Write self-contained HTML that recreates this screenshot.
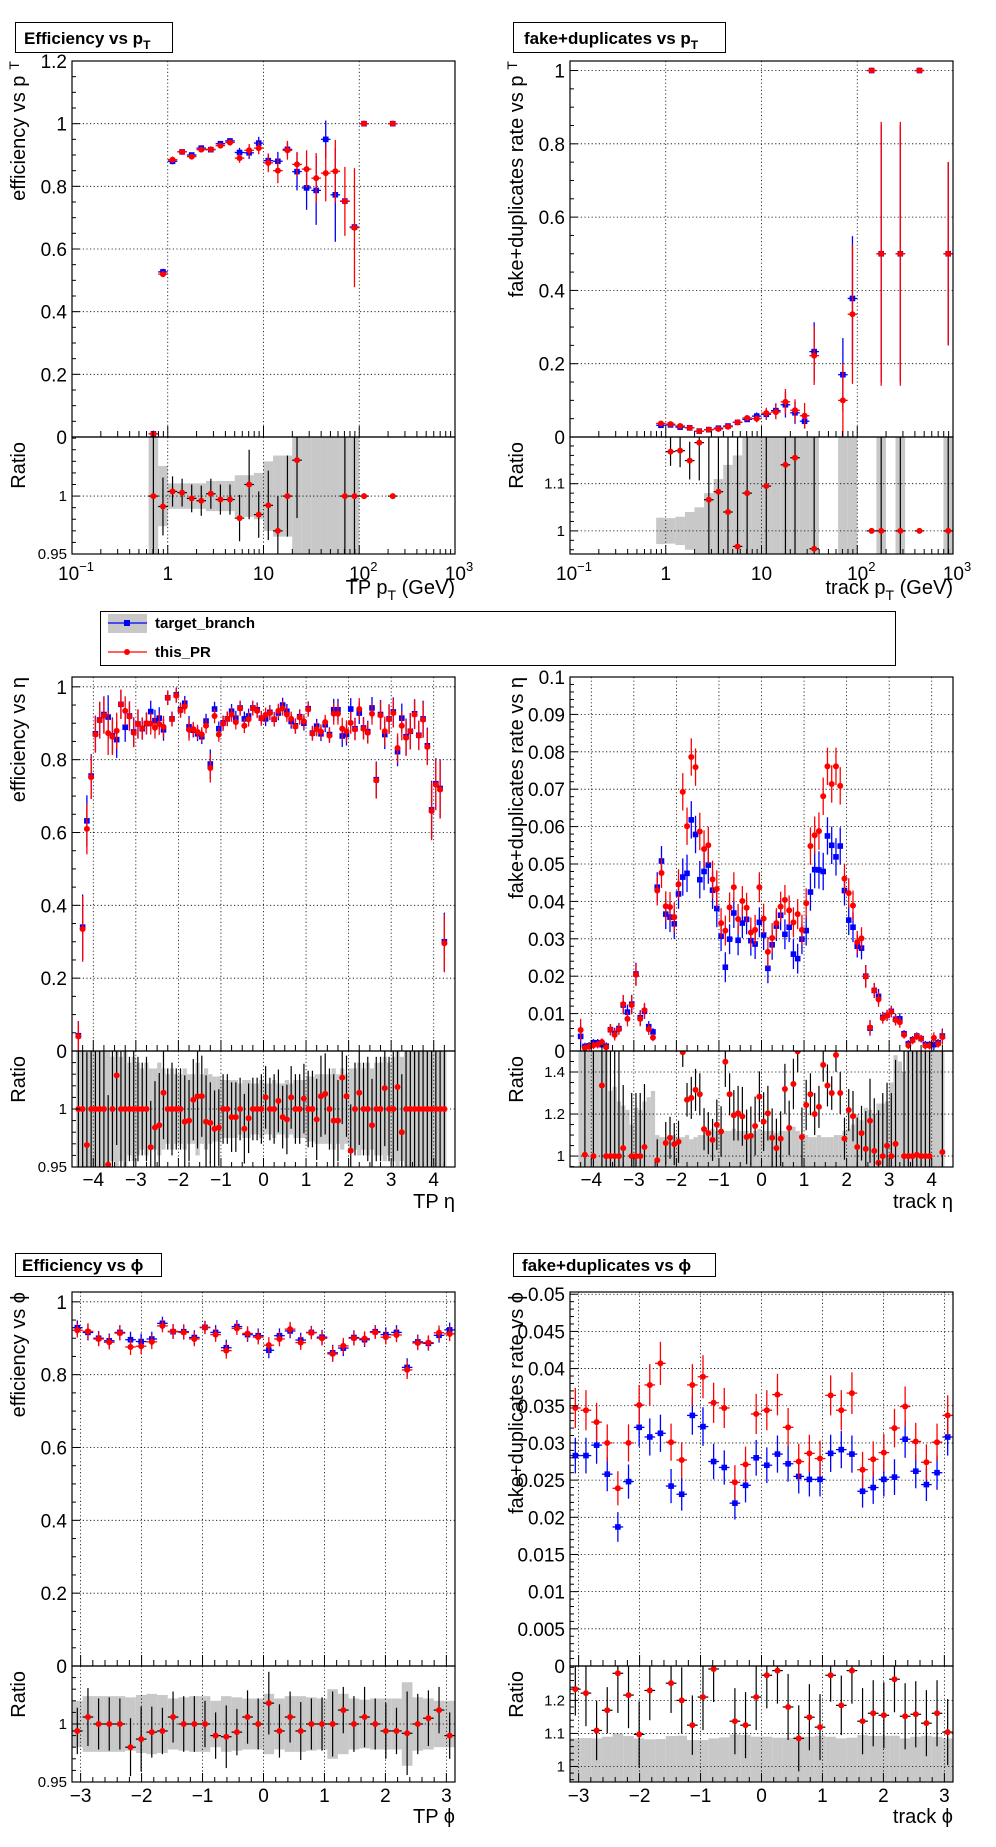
<!DOCTYPE html>
<html><head><meta charset="utf-8">
<style>
html,body{margin:0;padding:0;background:#fff;}
svg{display:block;font-family:"Liberation Sans",Arial,sans-serif;}
</style></head>
<body>
<svg id="canvas" width="996" height="1847" viewBox="0 0 996 1847" xmlns="http://www.w3.org/2000/svg">
<rect x="0" y="0" width="996" height="1847" fill="#fff"/>
<g>
<rect x="15.5" y="22.5" width="157" height="30" fill="#fff" stroke="#000"/>
<text x="24" y="44" font-size="17" font-weight="bold">Efficiency vs p<tspan font-size="12" dy="5">T</tspan></text>
</g>
<g>
<rect x="513.5" y="22.5" width="212" height="30" fill="#fff" stroke="#000"/>
<text x="524" y="44" font-size="17" font-weight="bold">fake+duplicates vs p<tspan font-size="12" dy="5">T</tspan></text>
</g>
<g>
<rect x="15.5" y="1253.5" width="146" height="23" fill="#fff" stroke="#000"/>
<text x="22" y="1271" font-size="17" font-weight="bold">Efficiency vs ϕ</text>
</g>
<g>
<rect x="513.5" y="1253.5" width="202" height="23" fill="#fff" stroke="#000"/>
<text x="522" y="1271" font-size="17" font-weight="bold">fake+duplicates vs ϕ</text>
</g>
<g>
<rect x="100.5" y="611.5" width="795" height="54" fill="#fff" stroke="#000"/>
<g>
<rect x="108" y="614" width="39" height="19" fill="#c8c8c8"/>
<line x1="108" y1="623" x2="147" y2="623" stroke="#0000ff" stroke-width="1.3"/>
<rect x="124" y="620" width="6" height="6" fill="#0000ff"/>
<text x="155" y="628" font-size="15" font-weight="bold">target_branch</text>
</g>
<g>
<line x1="108" y1="652" x2="147" y2="652" stroke="#ff0000" stroke-width="1.3"/>
<circle cx="127" cy="652" r="3" fill="#ff0000"/>
<text x="155" y="657" font-size="15" font-weight="bold">this_PR</text>
</g>
</g>
</svg>
<script>
// ---------- efficiency vs pT (log10 bin centres) ----------
const effPtCenters=[-0.15,-0.05,0.05,0.15,0.25,0.35,0.45,0.55,0.65,0.75,0.85,0.95,1.05,1.15,1.25,1.35,1.45,1.55,1.65,1.75,1.85,1.95,2.05,2.35];
const effPtBlue=[0.01,0.527,0.88,0.91,0.90,0.922,0.917,0.936,0.945,0.908,0.907,0.938,0.882,0.88,0.918,0.847,0.795,0.787,0.95,0.773,0.753,0.67,1,1];
const effPtRed=[0.01,0.52,0.885,0.91,0.895,0.917,0.918,0.93,0.94,0.89,0.915,0.922,0.875,0.85,0.915,0.87,0.855,0.826,0.842,0.848,0.752,0.668,1,1];
const effPtBlueErr=[0.01,0.01,0.01,0.008,0.008,0.008,0.008,0.008,0.008,0.015,0.02,0.02,0.02,0.03,0.02,0.06,0.07,0.11,0.06,0.15,0.01,0.01,0,0];
const effPtRedErr=[0.01,0.01,0.01,0.008,0.008,0.008,0.008,0.008,0.01,0.015,0.02,0.02,0.03,0.04,0.03,0.04,0.06,0.08,0.09,0.1,0.11,0.19,0,0];
const effPtRatio=[1.0,0.991,1.004,1.003,0.998,0.996,1.002,0.997,0.997,0.981,1.01,0.984,0.992,0.97,1.0,1.031,null,null,null,null,1.0,1.0,1.0,1.0];
const effPtRatioErr=[1,0.025,0.013,0.012,0.012,0.013,0.013,0.013,0.013,0.02,0.03,0.02,0.03,0.03,0.035,0.05,0,0,0,0,1,1,0,0];
const effPtBand=[1,0.026,0.011,0.011,0.011,0.011,0.013,0.013,0.013,0.018,0.018,0.02,0.03,0.035,0.035,1,1,1,1,1,1,1,0,0];

// ---------- fake+dup vs pT ----------
const fakePtCenters=[-0.05,0.05,0.15,0.25,0.35,0.45,0.55,0.65,0.75,0.85,0.95,1.05,1.15,1.25,1.35,1.45,1.55,1.85,1.95,2.15,2.25,2.45,2.65,2.95];
const fakePtBlue=[0.032,0.033,0.027,0.025,0.016,0.02,0.024,0.03,0.04,0.048,0.057,0.062,0.072,0.088,0.066,0.043,0.233,0.17,0.378,1,0.5,0.5,1,0.5];
const fakePtRed=[0.037,0.035,0.03,0.025,0.016,0.02,0.022,0.028,0.04,0.052,0.05,0.065,0.068,0.096,0.073,0.058,0.222,0.1,0.335,1,0.5,0.5,1,0.5];
const fakePtBlueErr=[0.004,0.003,0.003,0.003,0.003,0.003,0.003,0.004,0.005,0.007,0.01,0.015,0.02,0.035,0.03,0.02,0.08,0.1,0.17,0,0.35,0.35,0,0.25];
const fakePtRedErr=[0.004,0.003,0.003,0.003,0.003,0.003,0.003,0.004,0.005,0.007,0.01,0.015,0.02,0.035,0.03,0.035,0.08,0.1,0.19,0,0.36,0.36,0,0.25];
const fakePtRatio=[null,1.168,1.17,1.149,1.187,1.066,1.083,1.04,0.967,1.08,null,1.095,null,1.14,1.155,null,0.962,null,null,1,1,1,1,1];
const fakePtRatioErr=[0,0.03,0.035,0.04,0.08,0.15,0.2,0.25,0.3,0.35,0,0.5,0,0.5,0.5,0,1,0,0,0,1,1,0,1];
const fakePtBand=[0.028,0.027,0.03,0.04,0.05,0.08,0.11,0.14,0.16,1,1,1,1,1,1,1,1,1,1,0,1,1,0,1];

// ---------- efficiency vs eta (first centre -4.35, width 0.1) ----------
const effEtaFirst=-4.35, etaBinWidth=0.1;
const effEtaRed=[0.04,0.335,0.61,0.752,0.869,0.908,0.921,0.873,0.863,0.879,
0.952,0.934,0.919,0.874,0.898,0.886,0.9,0.899,0.888,0.898,
0.89,0.97,0.911,0.976,0.935,0.946,0.882,0.884,0.876,0.869,
0.893,0.777,0.92,0.869,0.899,0.912,0.924,0.903,0.941,0.893,
0.911,0.941,0.934,0.913,0.923,0.928,0.911,0.934,0.941,0.924,
0.912,0.891,0.916,0.905,0.938,0.872,0.884,0.877,0.903,0.866,
0.926,0.926,0.885,0.878,0.901,0.883,0.939,0.885,0.874,0.926,
0.743,0.922,0.878,0.911,0.928,0.832,0.893,0.86,0.878,0.924,
0.866,0.91,0.835,0.659,0.731,0.718,0.296];
const effEtaBlue=[0.042,0.34,0.632,0.755,0.871,0.909,0.924,0.917,0.866,0.855,
0.952,0.889,0.92,0.876,0.898,0.885,0.899,0.932,0.907,0.914,
0.882,0.97,0.912,0.978,0.937,0.955,0.89,0.881,0.871,0.863,
0.906,0.788,0.939,0.885,0.901,0.912,0.933,0.914,0.942,0.912,
0.92,0.942,0.937,0.914,0.912,0.93,0.911,0.928,0.95,0.933,
0.905,0.893,0.918,0.9,0.94,0.873,0.892,0.871,0.896,0.869,
0.937,0.937,0.865,0.869,0.939,0.885,0.928,0.887,0.877,0.942,
0.745,0.924,0.869,0.912,0.931,0.822,0.914,0.863,0.878,0.926,
0.867,0.912,0.838,0.662,0.734,0.721,0.3];
const effEtaErr=[0.04,0.09,0.07,0.06,0.05,0.05,0.05,0.06,0.05,0.05,
0.04,0.04,0.04,0.04,0.04,0.03,0.03,0.03,0.03,0.03,
0.03,0.02,0.02,0.02,0.02,0.02,0.03,0.02,0.02,0.02,
0.02,0.04,0.02,0.02,0.02,0.02,0.02,0.02,0.02,0.02,
0.02,0.02,0.02,0.02,0.02,0.02,0.02,0.02,0.02,0.02,
0.02,0.02,0.02,0.02,0.02,0.02,0.02,0.02,0.02,0.02,
0.03,0.03,0.03,0.03,0.03,0.03,0.03,0.03,0.03,0.03,
0.05,0.04,0.04,0.04,0.04,0.04,0.04,0.05,0.05,0.04,
0.04,0.05,0.05,0.08,0.07,0.08,0.08];
const effEtaRatio=[1,1,0.969,1,1,1,1,0.952,1,1.029,
1,1,1,1,1,1,1,0.967,0.984,0.986,
1.014,1,1,1,1,0.989,0.99,1.008,1.011,1.011,
0.989,0.988,0.983,0.984,1,1,0.993,0.993,1,0.983,
0.992,1,1,1,1.01,1,1,1.007,0.993,0.991,
1.01,1,1,1.009,1,1,0.991,1.011,1.013,1,
0.99,0.99,1.027,1.011,0.964,1,1.014,1,1,0.986,
1,1,1.018,1,1,1.019,0.98,1,1,1,
1,1,1,1,1,1,1];
const effEtaRatioErr=[0.08,0.08,0.08,0.08,0.08,0.08,0.07,0.06,0.055,0.06,
0.05,0.055,0.045,0.05,0.045,0.04,0.045,0.04,0.04,0.045,
0.04,0.035,0.04,0.035,0.035,0.04,0.035,0.035,0.045,0.035,
0.04,0.035,0.033,0.033,0.03,0.03,0.03,0.03,0.027,0.03,
0.03,0.027,0.027,0.03,0.027,0.027,0.03,0.027,0.027,0.03,
0.027,0.03,0.03,0.03,0.033,0.033,0.035,0.035,0.035,0.035,
0.04,0.035,0.04,0.035,0.04,0.04,0.045,0.04,0.045,0.04,
0.045,0.045,0.05,0.045,0.05,0.055,0.05,0.08,0.08,0.08,
0.08,0.08,0.08,0.08,0.08,0.08,0.08];
const effEtaBand=[0.06,0.06,0.06,0.06,0.06,0.06,0.06,0.05,0.045,0.05,
0.045,0.05,0.04,0.045,0.04,0.035,0.04,0.035,0.035,0.04,
0.035,0.03,0.035,0.03,0.03,0.035,0.03,0.03,0.04,0.03,
0.035,0.03,0.028,0.028,0.025,0.025,0.025,0.025,0.022,0.025,
0.025,0.022,0.022,0.025,0.022,0.022,0.025,0.022,0.022,0.025,
0.022,0.025,0.025,0.025,0.028,0.028,0.03,0.03,0.03,0.03,
0.035,0.03,0.035,0.03,0.035,0.035,0.04,0.035,0.04,0.035,
0.04,0.04,0.045,0.04,0.045,0.05,0.045,0.06,0.06,0.06,
0.06,0.06,0.06,0.06,0.06,0.06,0.06];

// ---------- fake+dup vs eta (first centre -4.25) ----------
const fakeEtaFirst=-4.25;
const fakeEtaRed=[0.0056,0.0008,0.0012,0.0015,0.0017,0.0024,0.001,0.0057,0.0043,0.0058,
0.0125,0.0086,0.0123,0.0204,0.0086,0.0109,0.0058,0.0036,0.0429,0.0476,
0.0387,0.0385,0.0358,0.0446,0.0693,0.0601,0.0786,0.0759,0.0587,0.054,
0.055,0.0459,0.0433,0.0342,0.0322,0.0384,0.0438,0.0353,0.0401,0.0383,
0.0317,0.0324,0.0438,0.0354,0.0265,0.0302,0.0342,0.0386,0.0404,0.0376,
0.0344,0.0366,0.0324,0.0395,0.0548,0.0577,0.0588,0.0681,0.0761,0.0714,
0.0761,0.0709,0.0461,0.0422,0.0389,0.0291,0.0301,0.0199,0.0063,0.0162,
0.0138,0.0088,0.0095,0.0105,0.0083,0.0077,0.0043,0.0015,0.0028,0.0039,
0.0033,0.0014,0.0014,0.0035,0.0019,0.0037];
const fakeEtaBlue=[0.0039,0.0012,0.0014,0.0022,0.0022,0.0017,0.0013,0.0057,0.0047,0.006,
0.0123,0.0104,0.0125,0.0206,0.0089,0.0106,0.0065,0.0051,0.0438,0.0508,
0.0366,0.0358,0.034,0.042,0.0465,0.0475,0.0618,0.0579,0.0458,0.048,
0.0497,0.043,0.0381,0.0307,0.0224,0.0299,0.0369,0.0296,0.0342,0.0352,
0.0295,0.0286,0.0344,0.031,0.0221,0.0284,0.0334,0.0363,0.0312,0.0331,
0.0259,0.0247,0.0299,0.0322,0.0425,0.0485,0.0484,0.048,0.0575,0.055,
0.0519,0.0548,0.0429,0.035,0.0331,0.028,0.0275,0.02,0.0061,0.0162,
0.0146,0.009,0.0095,0.0106,0.0085,0.0086,0.0046,0.0019,0.003,0.004,
0.0033,0.0017,0.0017,0.0017,0.0022,0.004];
const fakeEtaErr=[0.003,0.001,0.001,0.001,0.001,0.001,0.001,0.0015,0.0015,0.0015,
0.0025,0.002,0.0025,0.003,0.002,0.002,0.0015,0.001,0.004,0.004,
0.004,0.004,0.004,0.004,0.005,0.005,0.005,0.005,0.005,0.005,
0.005,0.005,0.005,0.004,0.004,0.004,0.004,0.004,0.004,0.004,
0.004,0.004,0.004,0.004,0.004,0.004,0.004,0.004,0.004,0.004,
0.004,0.004,0.004,0.004,0.005,0.005,0.005,0.005,0.005,0.005,
0.005,0.005,0.004,0.004,0.004,0.003,0.003,0.003,0.002,0.002,
0.002,0.0015,0.0015,0.0015,0.0015,0.0015,0.001,0.001,0.001,0.001,
0.001,0.001,0.001,0.0015,0.001,0.002];
const fakeEtaRatio=[null,1.006,null,1.0,null,1.336,1,1,1,1,
1.038,null,1,1,1,1.043,null,null,0.98,null,
1.062,1.087,1.057,1.068,1.494,1.268,1.277,1.315,1.294,1.128,
1.109,1.077,1.149,1.117,1.449,1.294,1.194,1.204,1.189,1.091,
1.096,1.143,1.283,1.164,1.204,1.087,1.038,1.083,1.319,1.134,
1.343,1.498,1.091,1.243,1.294,1.2,1.234,1.434,1.336,1.3,
1.481,1.3,1.083,1.219,1.19,1.043,1.109,1.034,1.168,1.025,
0.968,1,1.049,1,1.058,null,1,1,1,1.006,
1,1,1,null,null,1.019];
const fakeEtaRatioErr=[1,1,1,1,1,1,0.5,0.5,0.5,0.5,
0.3,0.3,0.3,0.3,0.3,0.3,0.4,0.4,0.1,0.1,
0.1,0.1,0.1,0.1,0.07,0.08,0.1,0.1,0.1,0.1,
0.1,0.1,0.12,0.12,0.12,0.1,0.12,0.13,0.14,0.13,
0.14,0.14,0.12,0.14,0.13,0.14,0.14,0.13,0.12,0.13,
0.12,0.1,0.14,0.12,0.1,0.1,0.1,0.08,0.1,0.08,
0.08,0.1,0.1,0.1,0.12,0.14,0.13,0.18,0.2,0.25,
0.25,0.3,0.3,0.3,0.4,0.5,1,1,1,1,
1,1,1,1,1,1];
const fakeEtaBand=[0.6,0.6,0.6,0.6,0.6,0.6,0.6,0.31,0.33,0.26,
0.24,0.22,0.15,0.23,0.22,0.26,0.28,0.31,0.1,0.09,
0.09,0.08,0.1,0.09,0.09,0.1,0.08,0.09,0.1,0.1,
0.12,0.13,0.12,0.12,0.12,0.12,0.13,0.12,0.12,0.12,
0.11,0.12,0.13,0.12,0.12,0.12,0.11,0.12,0.12,0.13,
0.14,0.12,0.1,0.1,0.09,0.09,0.1,0.09,0.09,0.09,
0.1,0.1,0.12,0.13,0.15,0.2,0.17,0.23,0.22,0.2,
0.25,0.25,0.26,0.35,0.48,0.45,0.4,0.6,0.6,0.6,
0.6,0.6,0.6,0.6,0.6,0.6];

// ---------- phi (36 bins over -pi..pi) ----------
const phiBins=36;
const effPhiRed=[0.922,0.919,0.898,0.889,0.914,0.876,0.878,0.89,0.934,0.919,0.916,0.898,0.929,0.91,0.866,0.927,0.913,0.903,0.881,0.898,0.925,0.888,0.915,0.9,0.857,0.879,0.9,0.899,0.916,0.903,0.909,0.813,0.887,0.888,0.915,0.912];
const effPhiBlue=[0.929,0.916,0.9,0.893,0.916,0.896,0.891,0.898,0.941,0.918,0.918,0.902,0.93,0.916,0.874,0.932,0.91,0.907,0.867,0.907,0.92,0.895,0.916,0.903,0.86,0.873,0.902,0.896,0.918,0.91,0.916,0.82,0.89,0.886,0.908,0.923];
const effPhiErr=[0.02,0.022,0.02,0.02,0.02,0.022,0.022,0.02,0.018,0.02,0.02,0.02,0.018,0.02,0.022,0.018,0.02,0.02,0.022,0.02,0.02,0.02,0.018,0.02,0.022,0.022,0.02,0.02,0.018,0.02,0.02,0.025,0.02,0.02,0.02,0.02];
const effPhiRatio=[0.994,1.006,1,1,1,0.98,0.987,0.993,0.994,1.006,1,1,1,0.99,0.989,0.993,1.006,1,1.018,0.994,1.006,0.994,1,1,1,1.012,1,1.006,1,0.994,0.994,0.992,1,1.005,1.012,0.99];
const effPhiRatioErr=[0.02,0.025,0.022,0.023,0.022,0.025,0.028,0.022,0.02,0.022,0.024,0.024,0.02,0.02,0.027,0.02,0.023,0.022,0.027,0.023,0.022,0.025,0.022,0.023,0.028,0.02,0.024,0.026,0.022,0.024,0.02,0.036,0.026,0.024,0.02,0.02];
const effPhiBand=[0.02,0.024,0.024,0.024,0.024,0.023,0.025,0.026,0.025,0.022,0.023,0.024,0.024,0.02,0.024,0.023,0.022,0.022,0.026,0.022,0.024,0.024,0.023,0.022,0.03,0.026,0.022,0.021,0.022,0.022,0.022,0.036,0.023,0.022,0.02,0.02];
const fakePhiRed=[0.0347,0.0344,0.0328,0.03,0.0239,0.03,0.0351,0.0378,0.0407,0.0301,0.0277,0.0378,0.0389,0.0354,0.0347,0.0247,0.0271,0.0339,0.0344,0.0365,0.0321,0.0275,0.0286,0.0279,0.0364,0.0344,0.0367,0.0264,0.0278,0.0287,0.032,0.0349,0.0302,0.0274,0.0301,0.0337];
const fakePhiBlue=[0.0283,0.0283,0.0297,0.0258,0.0187,0.0248,0.0321,0.0308,0.0313,0.0242,0.0231,0.0337,0.0322,0.0275,0.0267,0.0219,0.0243,0.028,0.027,0.0285,0.0272,0.0255,0.0251,0.0251,0.0286,0.0291,0.0285,0.0235,0.024,0.0251,0.0254,0.0305,0.0262,0.0244,0.026,0.0308];
const fakePhiRedErr=[0.0027,0.0027,0.0026,0.0025,0.0023,0.0025,0.0027,0.0028,0.0029,0.0025,0.0024,0.0028,0.0029,0.0027,0.0027,0.0023,0.0024,0.0027,0.0027,0.0028,0.0026,0.0024,0.0025,0.0024,0.0027,0.0027,0.0028,0.0024,0.0024,0.0025,0.0026,0.0027,0.0025,0.0024,0.0025,0.0027];
const fakePhiBlueErr=[0.0024,0.0024,0.0025,0.0023,0.002,0.0023,0.0026,0.0025,0.0025,0.0023,0.0022,0.0026,0.0026,0.0024,0.0023,0.0022,0.0023,0.0024,0.0024,0.0025,0.0024,0.0023,0.0023,0.0023,0.0025,0.0025,0.0025,0.0022,0.0022,0.0023,0.0024,0.0025,0.0023,0.0022,0.0023,0.0025];
const fakePhiRatio=[1.234,1.222,1.109,1.17,1.282,1.216,1.097,1.23,null,1.252,1.2,1.125,1.21,1.295,null,1.137,1.125,1.21,1.276,1.29,1.18,1.085,1.149,1.119,1.276,1.185,1.29,1.137,1.161,1.155,1.264,1.152,1.158,1.131,1.161,1.104];
const fakePhiRatioErr=[0.08,0.1,0.09,0.07,0.12,0.1,0.1,0.09,0,0.09,0.1,0.09,0.1,0.1,0,0.1,0.1,0.1,0.1,0.1,0.1,0.1,0.1,0.1,0.08,0.09,0.1,0.1,0.1,0.1,0.1,0.1,0.1,0.1,0.1,0.1];
const fakePhiBand=[0.085,0.086,0.085,0.09,0.1,0.092,0.085,0.082,0.083,0.092,0.093,0.08,0.08,0.085,0.088,0.097,0.095,0.09,0.09,0.087,0.087,0.09,0.09,0.093,0.09,0.085,0.087,0.095,0.092,0.093,0.093,0.085,0.09,0.093,0.09,0.085];

// ---------- tick label arrays ----------
const effYLabels=["0","0.2","0.4","0.6","0.8","1","1.2"];
const fakeEtaYLabels=["0","0.01","0.02","0.03","0.04","0.05","0.06","0.07","0.08","0.09","0.1"];
const fakePhiYLabels=["0","0.005","0.01","0.015","0.02","0.025","0.03","0.035","0.04","0.045","0.05"];
const etaXLabels=["−4","−3","−2","−1","0","1","2","3","4"];
const phiXLabels=["−3","−2","−1","0","1","2","3"];

const NS="http://www.w3.org/2000/svg";
const svg=document.getElementById('canvas');
let clipN=0;
function mk(tag,at,par){const e=document.createElementNS(NS,tag);for(const k in at)e.setAttribute(k,at[k]);(par||svg).appendChild(e);return e;}
function lin(a,b,p,q){return v=>p+(v-a)*(q-p)/(b-a);}
function rng(a,b,s){const o=[];for(let v=a;v<=b+1e-9;v+=s)o.push(+v.toFixed(6));return o;}

function panel(p){
  const g=mk('g',{});
  
  
  const fx=p.fx, fy=lin(0,p.yMax,p.yM,p.yT), fr=lin(p.rMin,p.rMax,p.yB,p.yM);
  const c1='c'+(clipN++), c2='c'+(clipN++);
  const defs=mk('defs',{},g);
  mk('rect',{x:p.x0,y:p.yT,width:p.x1-p.x0,height:p.yM-p.yT},mk('clipPath',{id:c1},defs));
  mk('rect',{x:p.x0,y:p.yM,width:p.x1-p.x0,height:p.yB-p.yM},mk('clipPath',{id:c2},defs));
  const gm=mk('g',{'clip-path':'url(#'+c1+')'},g);
  const gr=mk('g',{'clip-path':'url(#'+c2+')'},g);
  // ratio band
  p.bandC.forEach((c,i)=>{const h=p.band[i]; if(!h)return;
    const y1=fr(Math.min(1+h,p.rMax+1)), y2=fr(Math.max(1-h,p.rMin-1));
    const r=mk('rect',{x:fx(c-p.hw),y:y1,width:fx(c+p.hw)-fx(c-p.hw),height:y2-y1,fill:'#c8c8c8'},gr);
    
    
  });
  // grid
  const dash={stroke:'#000','stroke-width':0.8,'stroke-dasharray':'1.2,2.4'};
  p.xGrid.forEach(v=>{
    mk('line',Object.assign({x1:fx(v),x2:fx(v),y1:p.yT,y2:p.yM},dash),gm);
    mk('line',Object.assign({x1:fx(v),x2:fx(v),y1:p.yM,y2:p.yB},dash),gr);
  });
  p.yMaj.forEach(v=>{ if(v>0) mk('line',Object.assign({x1:p.x0,x2:p.x1,y1:fy(v),y2:fy(v)},dash),gm);});
  p.rMaj.forEach(v=>mk('line',Object.assign({x1:p.x0,x2:p.x1,y1:fr(v),y2:fr(v)},dash),gr));
  // series
  function series(cs,vals,errs,col,sq,nm){
    const sg=mk('g',{},gm);
    
    
    cs.forEach((c,i)=>{const v=vals[i]; if(v==null)return; const e=errs[i]||0;
      const x=fx(c), y=fy(v);
      mk('line',{x1:fx(c-p.hw),x2:fx(c+p.hw),y1:y,y2:y,stroke:col,'stroke-width':1.3},sg);
      if(e>0) mk('line',{x1:x,x2:x,y1:fy(v-e),y2:fy(v+e),stroke:col,'stroke-width':1.3},sg);
      let m;
      if(sq) m=mk('rect',{x:x-2.8,y:y-2.8,width:5.6,height:5.6,fill:col},sg);
      else m=mk('circle',{cx:x,cy:y,r:3,fill:col},sg);
      
      
    });
  }
  series(p.cB,p.blue,p.blueErr,'#0000ff',true,'target-branch-series');
  series(p.cR,p.red,p.redErr,'#ff0000',false,'this-pr-series');
  // ratio points
  const rg=mk('g',{},gr);
  
  
  p.cRat.forEach((c,i)=>{const v=p.ratio[i]; if(v==null)return; const e=p.ratioErr[i]||0;
    const x=fx(c), y=fr(v);
    mk('line',{x1:fx(c-p.hw),x2:fx(c+p.hw),y1:y,y2:y,stroke:'#000','stroke-width':1.2},rg);
    if(e>0) mk('line',{x1:x,x2:x,y1:fr(v-e),y2:fr(v+e),stroke:'#000','stroke-width':1.2},rg);
    const m=mk('circle',{cx:x,cy:y,r:3,fill:'#ff0000'},rg);
    
    
  });
  // frames
  mk('rect',{x:p.x0,y:p.yT,width:p.x1-p.x0,height:p.yM-p.yT,fill:'none',stroke:'#000','stroke-width':1.2},g);
  mk('rect',{x:p.x0,y:p.yM,width:p.x1-p.x0,height:p.yB-p.yM,fill:'none',stroke:'#000','stroke-width':1.2},g);
  const tk={stroke:'#000','stroke-width':1};
  // y ticks main
  rng(0,p.yMax,p.yMinStep).forEach(v=>{const isM=p.yMaj.some(m=>Math.abs(m-v)<1e-9);
    mk('line',Object.assign({x1:p.x0,x2:p.x0+(isM?8:4),y1:fy(v),y2:fy(v)},tk),g);});
  rng(p.rMinStart,p.rMax,p.rMinStep).forEach(v=>{ if(v<p.rMin-1e-9)return; const isM=p.rMaj.some(m=>Math.abs(m-v)<1e-9);
    mk('line',Object.assign({x1:p.x0,x2:p.x0+(isM?8:4),y1:fr(v),y2:fr(v)},tk),g);});
  // x ticks
  p.xTicks.forEach(t=>{const x=fx(t.v); if(x<p.x0-0.5||x>p.x1+0.5)return;
    mk('line',Object.assign({x1:x,x2:x,y1:p.yM,y2:p.yM-(t.maj?11:6)},tk),g);
    mk('line',Object.assign({x1:x,x2:x,y1:p.yB,y2:p.yB-(t.maj?9:5)},tk),g);});
  // y labels
  p.yMaj.forEach((v,i)=>{const t=mk('text',{x:p.x0-5,y:fy(v)+7,'font-size':19,'text-anchor':'end'},g);t.textContent=p.yLab[i];
    
    });
  p.rMaj.forEach((v,i)=>{ if(p.rLab[i]==null)return; const t=mk('text',{x:p.x0-5,y:fr(v)+5,'font-size':15,'text-anchor':'end'},g);t.textContent=p.rLab[i];
    
    });
  // x labels
  p.xLabs.forEach(l=>{const t=mk('text',{x:fx(l.v)+(l.dx||0),y:p.labY,'font-size':19,'text-anchor':'middle'},g);
    
    
    t.appendChild(document.createTextNode(l.t));
    if(l.sup){const s=mk('tspan',{'font-size':13,dy:-9},t);s.textContent=l.sup;}
  });
  // titles
  const yt=mk('text',{x:p.ytX,y:p.yT,'font-size':20,'text-anchor':'end',transform:'rotate(-90 '+p.ytX+' '+p.yT+')'},g);
  
  
  yt.appendChild(document.createTextNode(p.ytitle));
  if(p.ytSub){const s=mk('tspan',{'font-size':14,dy:-6,dx:6},yt);s.textContent=p.ytSub;}
  const rt=mk('text',{x:p.ytX,y:p.yM+5,'font-size':20,'text-anchor':'end',transform:'rotate(-90 '+p.ytX+' '+(p.yM+5)+')'},g);
  
  
  rt.textContent='Ratio';
  const xt=mk('text',{x:p.x1,y:p.xtY,'font-size':20,'text-anchor':'end'},g);
  
  
  p.xtitle.forEach(s=>{const ts=mk('tspan',s.sub?{'font-size':14,dy:6}:(s.back?{dy:-6}:{}),xt);ts.textContent=s.t;});
}

function logTicks(){const o=[];for(let d=-1;d<3;d++){o.push({v:d,maj:true});for(let k=2;k<10;k++)o.push({v:d+Math.log10(k),maj:false});}o.push({v:3,maj:true});return o;}
function linTicks(a,b,minor){return rng(a,b,minor).map(v=>({v,maj:Math.abs(v-Math.round(v))<1e-6}));}
const logLabs=[{v:-1,t:'10',sup:'−1',dx:4},{v:0,t:'1'},{v:1,t:'10'},{v:2,t:'10',sup:'2',dx:4},{v:3,t:'10',sup:'3',dx:4}];
const etaLabs=etaXLabels.map((t,i)=>({v:i-4,t}));
const phiLabs=phiXLabels.map((t,i)=>({v:i-3,t}));
const idx=(first,n)=>Array.from({length:n},(_,i)=>first+i*etaBinWidth);
const phiW=2*Math.PI/phiBins;
const phiC=Array.from({length:phiBins},(_,i)=>-Math.PI+(i+0.5)*phiW);
const effMaj=[0,0.2,0.4,0.6,0.8,1,1.2];

const TOP={yT:61,yM:437,yB:554,labY:580,xtY:594};
const MID={yT:677,yM:1051,yB:1167,labY:1186,xtY:1208};
const BOT={yT:1292,yM:1666,yB:1782,labY:1802,xtY:1823};

panel(Object.assign({name:'efficiency-vs-pt',x0:72,x1:455,fx:lin(-1,3,72,455),hw:0.05,yMax:1.2,yMaj:effMaj,yLab:effYLabels,yMinStep:0.05,
  rMin:0.95,rMax:1.051,rMaj:[0.95,1],rLab:['0.95','1'],rMinStart:0.95,rMinStep:0.01,
  xGrid:[0,1,2],xTicks:logTicks(),xLabs:logLabs,
  cB:effPtCenters,cR:effPtCenters,blue:effPtBlue,red:effPtRed,blueErr:effPtBlueErr,redErr:effPtRedErr,
  cRat:effPtCenters,ratio:effPtRatio,ratioErr:effPtRatioErr,bandC:effPtCenters,band:effPtBand,
  ytX:25,ytitle:'efficiency vs p',ytSub:'T',xtitle:[{t:'TP p'},{t:'T',sub:true},{t:' (GeV)',back:true}]},TOP));

panel(Object.assign({name:'fake-rate-vs-pt',x0:570,x1:953,fx:lin(-1,3,570,953),hw:0.05,yMax:1.026,yMaj:[0,0.2,0.4,0.6,0.8,1],yLab:effYLabels,yMinStep:0.05,
  rMin:0.951,rMax:1.199,rMaj:[1,1.1],rLab:['1','1.1'],rMinStart:0.96,rMinStep:0.02,
  xGrid:[0,1,2],xTicks:logTicks(),xLabs:logLabs,
  cB:fakePtCenters,cR:fakePtCenters,blue:fakePtBlue,red:fakePtRed,blueErr:fakePtBlueErr,redErr:fakePtRedErr,
  cRat:fakePtCenters,ratio:fakePtRatio,ratioErr:fakePtRatioErr,bandC:fakePtCenters,band:fakePtBand,
  ytX:523,ytitle:'fake+duplicates rate vs p',ytSub:'T',xtitle:[{t:'track p'},{t:'T',sub:true},{t:' (GeV)',back:true}]},TOP));

const eC=idx(effEtaFirst,effEtaRed.length), fC=idx(fakeEtaFirst,fakeEtaRed.length);
panel(Object.assign({name:'efficiency-vs-eta',x0:72,x1:455,fx:lin(-4.5,4.5,72,455),hw:0.05,yMax:1.027,yMaj:[0,0.2,0.4,0.6,0.8,1],yLab:effYLabels,yMinStep:0.05,
  rMin:0.95,rMax:1.05,rMaj:[0.95,1],rLab:['0.95','1'],rMinStart:0.95,rMinStep:0.01,
  xGrid:[-4,-3,-2,-1,0,1,2,3,4],xTicks:linTicks(-4.5,4.5,0.25),xLabs:etaLabs,
  cB:eC,cR:eC,blue:effEtaBlue,red:effEtaRed,blueErr:effEtaErr,redErr:effEtaErr,
  cRat:eC,ratio:effEtaRatio,ratioErr:effEtaRatioErr,bandC:eC,band:effEtaBand,
  ytX:25,ytitle:'efficiency vs  η',xtitle:[{t:'TP  η'}]},MID));

panel(Object.assign({name:'fake-rate-vs-eta',x0:570,x1:953,fx:lin(-4.5,4.5,570,953),hw:0.05,yMax:0.1,yMaj:rng(0,0.1,0.01),yLab:fakeEtaYLabels,yMinStep:0.002,
  rMin:0.948,rMax:1.5,rMaj:[1,1.2,1.4],rLab:['1','1.2','1.4'],rMinStart:0.95,rMinStep:0.05,
  xGrid:[-4,-3,-2,-1,0,1,2,3,4],xTicks:linTicks(-4.5,4.5,0.25),xLabs:etaLabs,
  cB:fC,cR:fC,blue:fakeEtaBlue,red:fakeEtaRed,blueErr:fakeEtaErr,redErr:fakeEtaErr,
  cRat:fC,ratio:fakeEtaRatio,ratioErr:fakeEtaRatioErr,bandC:fC,band:fakeEtaBand,
  ytX:523,ytitle:'fake+duplicates rate vs  η',xtitle:[{t:'track  η'}]},MID));

panel(Object.assign({name:'efficiency-vs-phi',x0:72,x1:455,fx:lin(-Math.PI,Math.PI,72,455),hw:phiW/2,yMax:1.027,yMaj:[0,0.2,0.4,0.6,0.8,1],yLab:effYLabels,yMinStep:0.05,
  rMin:0.95,rMax:1.05,rMaj:[0.95,1],rLab:['0.95','1'],rMinStart:0.95,rMinStep:0.01,
  xGrid:[-3,-2,-1,0,1,2,3],xTicks:linTicks(-3.2,3.2,0.2),xLabs:phiLabs,
  cB:phiC,cR:phiC,blue:effPhiBlue,red:effPhiRed,blueErr:effPhiErr,redErr:effPhiErr,
  cRat:phiC,ratio:effPhiRatio,ratioErr:effPhiRatioErr,bandC:phiC,band:effPhiBand,
  ytX:25,ytitle:'efficiency vs  ϕ',xtitle:[{t:'TP  ϕ'}]},BOT));

panel(Object.assign({name:'fake-rate-vs-phi',x0:570,x1:953,fx:lin(-Math.PI,Math.PI,570,953),hw:phiW/2,yMax:0.0503,yMaj:rng(0,0.05,0.005),yLab:fakePhiYLabels,yMinStep:0.001,
  rMin:0.953,rMax:1.304,rMaj:[1,1.1,1.2],rLab:['1','1.1','1.2'],rMinStart:0.96,rMinStep:0.02,
  xGrid:[-3,-2,-1,0,1,2,3],xTicks:linTicks(-3.2,3.2,0.2),xLabs:phiLabs,
  cB:phiC,cR:phiC,blue:fakePhiBlue,red:fakePhiRed,blueErr:fakePhiBlueErr,redErr:fakePhiRedErr,
  cRat:phiC,ratio:fakePhiRatio,ratioErr:fakePhiRatioErr,bandC:phiC,band:fakePhiBand,
  ytX:523,ytitle:'fake+duplicates rate vs  ϕ',xtitle:[{t:'track  ϕ'}]},BOT));
</script>
</body></html>
